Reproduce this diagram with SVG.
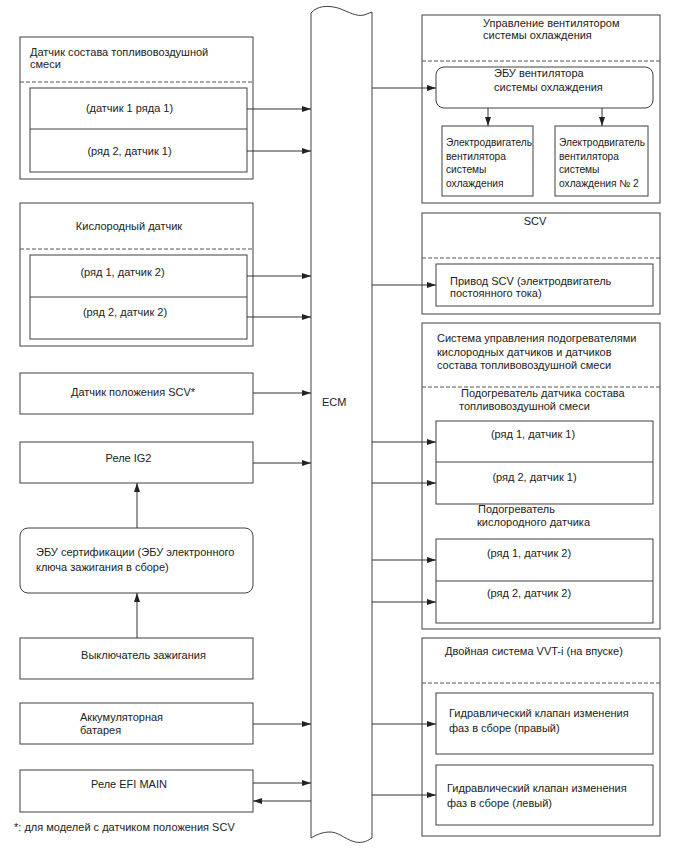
<svg xmlns="http://www.w3.org/2000/svg" width="688" height="852" viewBox="0 0 688 852">
<defs>
<style>
.b{fill:#fff;stroke:#404040;stroke-width:1}
.d{fill:none;stroke:#555;stroke-width:1;stroke-dasharray:4,2}
.l{fill:none;stroke:#404040;stroke-width:1}
.c{fill:none;stroke:#333;stroke-width:1;marker-end:url(#ah)}
text{font-family:"Liberation Sans",Arial,sans-serif;font-size:11px;fill:#222}
.m{text-anchor:middle}
.s{font-size:10.2px}
</style>
<marker id="ah" markerWidth="9" markerHeight="7" refX="9" refY="3.5" orient="auto" markerUnits="userSpaceOnUse">
<path d="M0,0.5 L9,3.5 L0,6.5 z" fill="#222"/>
</marker>
</defs>
<rect width="688" height="852" fill="#fff"/>

<g id="ecm">
<path class="b" d="M311,838 L311,13 C317,6 327,5 338,8 C349,12 357,17 364,15 L372,12 L372,838 C366,842 360,844 352,841 C344,838 338,832 330,832 C322,832 316,835 311,838 Z"/>
<text x="322" y="406">ECM</text>
</g>

<g id="afs">
<rect class="b" x="20" y="37" width="233" height="142"/>
<text x="30" y="56">Датчик состава топливовоздушной</text>
<text x="30" y="68">смеси</text>
<line class="d" x1="20" y1="82" x2="253" y2="82"/>
<rect class="b" x="30" y="88" width="217" height="84"/>
<line class="l" x1="30" y1="129" x2="247" y2="129"/>
<text class="m" x="129.5" y="112">(датчик 1 ряда 1)</text>
<text class="m" x="129.5" y="155">(ряд 2, датчик 1)</text>
</g>

<g id="o2">
<rect class="b" x="20" y="203" width="233" height="143"/>
<text class="m" x="129" y="230">Кислородный датчик</text>
<line class="d" x1="20" y1="249" x2="253" y2="249"/>
<rect class="b" x="30" y="255" width="217" height="84"/>
<line class="l" x1="30" y1="297" x2="247" y2="297"/>
<text class="m" x="122.5" y="276">(ряд 1, датчик 2)</text>
<text class="m" x="125" y="316">(ряд 2, датчик 2)</text>
</g>

<g id="scvpos">
<rect class="b" x="20" y="373" width="233" height="41"/>
<text class="m" x="133" y="396">Датчик положения SCV*</text>
</g>

<g id="ig2">
<rect class="b" x="20" y="442" width="233" height="41"/>
<text class="m" x="128.5" y="462">Реле IG2</text>
</g>

<g id="cert">
<rect class="b" x="20" y="528" width="233" height="65" rx="8" ry="8"/>
<text x="36" y="556">ЭБУ сертификации (ЭБУ электронного</text>
<text x="36" y="571">ключа зажигания в сборе)</text>
</g>

<g id="ign">
<rect class="b" x="20" y="638" width="233" height="41"/>
<text class="m" x="143.5" y="659">Выключатель зажигания</text>
</g>

<g id="batt">
<rect class="b" x="20" y="703" width="233" height="41"/>
<text x="80" y="721">Аккумуляторная</text>
<text x="80" y="734">батарея</text>
</g>

<g id="efi">
<rect class="b" x="20" y="770" width="233" height="42"/>
<text class="m" x="129" y="788">Реле EFI MAIN</text>
</g>

<text x="14" y="831">*: для моделей с датчиком положения SCV</text>

<g id="fan">
<rect class="b" x="422" y="15" width="238" height="188"/>
<text x="483" y="27">Управление вентилятором</text>
<text x="483" y="39">системы охлаждения</text>
<line class="d" x1="422" y1="61" x2="660" y2="61"/>
<rect class="b" x="436" y="67" width="217" height="41" rx="8" ry="8"/>
<text x="494" y="77">ЭБУ вентилятора</text>
<text x="494" y="91">системы охлаждения</text>
<rect class="b" x="442" y="126" width="91" height="70"/>
<text class="s" x="446" y="146">Электродвигатель</text>
<text class="s" x="446" y="160">вентилятора</text>
<text class="s" x="446" y="173">системы</text>
<text class="s" x="446" y="187">охлаждения</text>
<rect class="b" x="555" y="126" width="93" height="70"/>
<text class="s" x="559" y="146">Электродвигатель</text>
<text class="s" x="559" y="160">вентилятора</text>
<text class="s" x="559" y="173">системы</text>
<text class="s" x="559" y="187">охлаждения № 2</text>
</g>

<g id="scv">
<rect class="b" x="422" y="213" width="238" height="101"/>
<text class="m" x="535" y="225">SCV</text>
<line class="d" x1="422" y1="258" x2="660" y2="258"/>
<rect class="b" x="436" y="264" width="217" height="42"/>
<text x="450" y="285">Привод SCV (электродвигатель</text>
<text x="450" y="297">постоянного тока)</text>
</g>

<g id="heater">
<rect class="b" x="422" y="323" width="238" height="306"/>
<text x="437" y="342">Система управления подогревателями</text>
<text x="437" y="355.5">кислородных датчиков и датчиков</text>
<text x="437" y="369">состава топливовоздушной смеси</text>
<line class="d" x1="422" y1="387" x2="660" y2="387"/>
<text x="461" y="397">Подогреватель датчика состава</text>
<text x="459" y="410">топливовоздушной смеси</text>
<rect class="b" x="436" y="421" width="217" height="83"/>
<line class="l" x1="436" y1="462" x2="653" y2="462"/>
<text class="m" x="533" y="438">(ряд 1, датчик 1)</text>
<text class="m" x="534.5" y="481">(ряд 2, датчик 1)</text>
<text x="478" y="513">Подогреватель</text>
<text x="477" y="526">кислородного датчика</text>
<rect class="b" x="436" y="539" width="217" height="84"/>
<line class="l" x1="436" y1="581" x2="653" y2="581"/>
<text class="m" x="529" y="557">(ряд 1, датчик 2)</text>
<text class="m" x="529" y="597">(ряд 2, датчик 2)</text>
</g>

<g id="vvt">
<rect class="b" x="422" y="638" width="238" height="198"/>
<text x="445" y="655">Двойная система VVT-i (на впуске)</text>
<line class="d" x1="422" y1="683" x2="660" y2="683"/>
<rect class="b" x="436" y="693" width="217" height="61"/>
<text x="449" y="717">Гидравлический клапан изменения</text>
<text x="449" y="732">фаз в сборе (правый)</text>
<rect class="b" x="436" y="765" width="217" height="60"/>
<text x="447" y="792">Гидравлический клапан изменения</text>
<text x="447" y="807">фаз в сборе (левый)</text>
</g>

<g id="connectors">
<line class="c" x1="247" y1="109" x2="311" y2="109"/>
<line class="c" x1="247" y1="151" x2="311" y2="151"/>
<line class="c" x1="247" y1="276" x2="311" y2="276"/>
<line class="c" x1="247" y1="317" x2="311" y2="317"/>
<line class="c" x1="253" y1="393" x2="311" y2="393"/>
<line class="c" x1="253" y1="463" x2="311" y2="463"/>
<line class="c" x1="137" y1="528" x2="137" y2="483"/>
<line class="c" x1="137" y1="638" x2="137" y2="593"/>
<line class="c" x1="253" y1="724" x2="311" y2="724"/>
<line class="c" x1="253" y1="783" x2="311" y2="783"/>
<line class="c" x1="311" y1="801" x2="253" y2="801"/>
<line class="c" x1="372" y1="88" x2="436" y2="88"/>
<line class="c" x1="488" y1="108" x2="488" y2="126"/>
<line class="c" x1="602" y1="108" x2="602" y2="126"/>
<line class="c" x1="372" y1="285" x2="436" y2="285"/>
<line class="c" x1="372" y1="442" x2="436" y2="442"/>
<line class="c" x1="372" y1="483" x2="436" y2="483"/>
<line class="c" x1="372" y1="560" x2="436" y2="560"/>
<line class="c" x1="372" y1="602" x2="436" y2="602"/>
<line class="c" x1="372" y1="724" x2="436" y2="724"/>
<line class="c" x1="372" y1="795" x2="436" y2="795"/>
</g>
</svg>
